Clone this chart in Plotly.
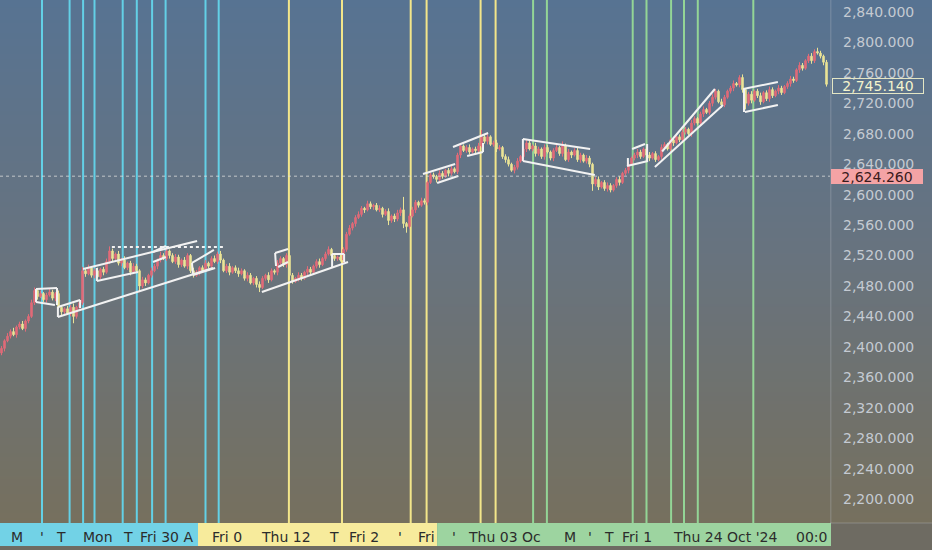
import base64, struct, zlib
import plotly.graph_objects as go

# ---------------- data ----------------
first_open = 2392
closes = [
    2398, 2408, 2414, 2420, 2416, 2426, 2430, 2424, 2434, 2440, 2458, 2474,
    2466, 2470, 2462, 2468, 2472, 2464, 2470, 2452, 2446, 2450, 2444, 2452,
    2440, 2452, 2458, 2500, 2496, 2504, 2494, 2500, 2492, 2502, 2498, 2512,
    2526, 2516, 2522, 2510, 2514, 2504, 2510, 2498, 2506, 2500, 2480, 2488,
    2484, 2494, 2500, 2506, 2514, 2520, 2516, 2526, 2520, 2512, 2518, 2508,
    2514, 2506, 2520, 2500, 2494, 2498, 2504, 2500, 2510, 2506, 2516, 2512,
    2522, 2514, 2500, 2506, 2498, 2504, 2500, 2496, 2500, 2490, 2494, 2484,
    2490, 2482, 2478, 2490, 2494, 2488, 2500, 2498, 2510, 2516, 2508, 2520,
    2494, 2486, 2490, 2494, 2490, 2498, 2502, 2498, 2506, 2512, 2508, 2516,
    2522, 2528, 2520, 2516, 2518, 2514, 2528, 2548, 2556, 2562, 2570, 2574,
    2582, 2580, 2588, 2584, 2586, 2580, 2582, 2574, 2578, 2566, 2572, 2568,
    2576, 2580, 2562, 2558, 2572, 2580, 2590, 2586, 2592, 2590, 2616, 2626,
    2624, 2620, 2628, 2624, 2632, 2628, 2634, 2630, 2652, 2664, 2658, 2662,
    2656, 2660, 2658, 2664, 2676, 2670, 2676, 2666, 2668, 2660, 2662, 2650,
    2646, 2640, 2632, 2636, 2644, 2650, 2660, 2668, 2660, 2664, 2654, 2660,
    2650, 2662, 2656, 2648, 2658, 2662, 2654, 2664, 2646, 2656, 2652, 2658,
    2646, 2652, 2644, 2648, 2640, 2614, 2620, 2610, 2616, 2608, 2612, 2606,
    2612, 2620, 2616, 2628, 2632, 2640, 2648, 2652, 2656, 2650, 2660, 2652,
    2648, 2654, 2646, 2650, 2662, 2666, 2660, 2672, 2668, 2676, 2672, 2682,
    2686, 2680, 2694, 2700, 2694, 2706, 2712, 2708, 2720, 2728, 2736, 2722,
    2718, 2728, 2736, 2740, 2746, 2744, 2754, 2738, 2720, 2732, 2724, 2736,
    2730, 2722, 2734, 2726, 2738, 2730, 2736, 2740, 2734, 2742, 2746, 2752,
    2750, 2764, 2770, 2766, 2776, 2782, 2776, 2788, 2786, 2782, 2774, 2745,
]
upper_wicks = [
    3, 2, 4, 3, 5, 2, 3, 4, 2, 3, 4, 4,
    3, 4, 2, 3, 5, 3, 2, 4, 3, 2, 4, 3,
    5, 2, 3, 5, 3, 4, 2, 3, 4, 2, 3, 4,
    6, 3, 2, 4, 3, 5, 2, 3, 4, 3, 2, 4,
    3, 2, 4, 3, 2, 5, 3, 4, 2, 3, 4, 3,
    2, 4, 3, 2, 4, 3, 2, 3, 4, 2, 3, 4,
    3, 4, 2, 3, 4, 2, 3, 4, 3, 2, 4, 3,
    2, 3, 4, 3, 2, 4, 3, 2, 4, 3, 2, 3,
    7, 3, 2, 4, 3, 2, 4, 3, 2, 3, 4, 2,
    3, 4, 2, 3, 2, 4, 3, 3, 4, 2, 3, 4,
    3, 2, 4, 3, 2, 3, 4, 2, 3, 4, 2, 3,
    4, 3, 17, 2, 3, 4, 3, 2, 4, 3, 2, 3,
    3, 2, 4, 3, 2, 3, 4, 2, 3, 4, 2, 3,
    4, 2, 3, 4, 9, 3, 4, 2, 3, 4, 3, 2,
    3, 4, 2, 3, 4, 2, 3, 4, 3, 2, 4, 3,
    2, 4, 3, 2, 3, 4, 2, 6, 3, 4, 2, 3,
    4, 3, 2, 4, 3, 2, 3, 4, 2, 3, 4, 3,
    2, 3, 4, 2, 3, 4, 2, 3, 4, 3, 2, 3,
    4, 2, 3, 2, 4, 3, 2, 3, 4, 2, 3, 4,
    3, 2, 4, 3, 2, 3, 4, 2, 3, 4, 3, 2,
    4, 3, 2, 3, 4, 2, 3, 4, 2, 3, 4, 2,
    3, 4, 2, 3, 4, 3, 2, 4, 3, 2, 3, 4,
    3, 2, 4, 3, 2, 3, 4, 3, 5, 3, 2, 3,
]
lower_wicks = [
    3, 4, 2, 3, 2, 4, 3, 2, 4, 3, 2, 3,
    4, 2, 3, 4, 2, 3, 4, 2, 5, 3, 2, 4,
    9, 3, 2, 3, 4, 2, 3, 4, 2, 3, 4, 2,
    3, 4, 2, 3, 4, 2, 3, 4, 2, 3, 8, 3,
    4, 2, 3, 2, 4, 3, 2, 3, 4, 2, 3, 4,
    3, 2, 4, 3, 3, 2, 4, 3, 2, 3, 4, 2,
    3, 4, 2, 3, 4, 2, 3, 4, 2, 3, 4, 2,
    3, 4, 6, 2, 3, 4, 2, 3, 4, 2, 3, 4,
    6, 3, 2, 4, 3, 2, 4, 3, 2, 3, 4, 2,
    3, 2, 4, 3, 3, 2, 4, 3, 2, 3, 4, 2,
    3, 4, 2, 3, 4, 2, 3, 4, 2, 6, 3, 4,
    3, 4, 6, 8, 3, 2, 4, 3, 2, 3, 4, 2,
    3, 4, 2, 3, 2, 4, 3, 2, 3, 4, 2, 3,
    3, 2, 4, 3, 2, 3, 4, 2, 3, 4, 2, 3,
    4, 3, 2, 4, 3, 2, 3, 4, 2, 3, 4, 3,
    3, 4, 2, 3, 4, 2, 3, 4, 2, 3, 4, 2,
    3, 4, 2, 3, 4, 9, 3, 4, 2, 3, 4, 3,
    2, 3, 4, 2, 3, 4, 2, 3, 4, 3, 2, 3,
    4, 2, 3, 2, 4, 3, 2, 3, 4, 2, 3, 4,
    3, 2, 4, 3, 2, 3, 4, 2, 3, 4, 3, 2,
    4, 3, 2, 3, 4, 2, 3, 4, 8, 3, 4, 2,
    3, 4, 2, 3, 4, 3, 2, 4, 3, 2, 3, 4,
    3, 2, 4, 3, 2, 3, 4, 3, 2, 3, 4, 3,
]

# event markers (bar index) by session colour
cyan_events = [13.5, 22.7, 27.2, 31.0, 40.4, 45.1, 50.2, 54.7, 68.0, 72.4]
yellow_events = [95.8, 113.5, 136.4, 141.7, 159.7, 164.7]
green_events = [177.2, 181.8, 210.4, 215.0, 223.2, 227.5, 232.1, 250.6]
# session band boundaries on the time axis (bar index)
band_edges = [-0.5, 65.5, 145.2, 276.5]

# drawn pattern lines (bar index, price) -> (bar index, price)
pattern_lines = [
    (11.5, 2476.0, 18.5, 2477.3), (18.5, 2477.3, 18.5, 2455.0),
    (11.5, 2458.9, 17.8, 2455.0), (11.5, 2476.0, 11.5, 2458.9),
    (18.8, 2452.4, 26.2, 2461.6), (18.8, 2452.4, 18.8, 2439.2),
    (26.2, 2461.6, 26.2, 2451.0),
    (18.8, 2439.2, 70.5, 2503.6),
    (27.2, 2502.3, 65.2, 2539.0),
    (31.8, 2486.5, 45.5, 2498.3), (31.8, 2503.6, 31.8, 2486.5),
    (50.5, 2524.6, 54.8, 2532.5), (50.5, 2511.5, 54.8, 2518.1),
    (63.5, 2510.2, 70.8, 2527.3), (63.8, 2494.4, 71.2, 2503.6),
    (63.5, 2510.2, 63.8, 2494.4),
    (91.2, 2523.3, 95.5, 2528.6), (92.2, 2504.9, 95.5, 2511.5),
    (91.2, 2523.3, 91.5, 2506.2),
    (86.8, 2472.1, 115.5, 2511.5),
    (110.2, 2522.0, 114.2, 2522.0), (110.2, 2522.0, 110.2, 2504.9),
    (114.2, 2522.0, 114.2, 2511.5),
    (140.5, 2627.1, 151.2, 2640.3), (145.2, 2615.3, 152.2, 2624.5),
    (150.5, 2662.6, 162.2, 2681.0), (155.2, 2650.8, 160.5, 2656.0),
    (160.5, 2667.9, 160.5, 2656.0),
    (173.8, 2673.1, 196.2, 2660.0), (173.8, 2644.2, 197.8, 2625.8),
    (173.8, 2673.1, 173.8, 2644.2),
    (210.2, 2660.0, 214.5, 2666.5), (208.5, 2637.6, 215.5, 2644.2),
    (215.2, 2666.5, 215.2, 2644.2), (208.8, 2648.1, 208.8, 2637.6),
    (220.2, 2656.7, 237.8, 2738.8), (217.8, 2636.3, 240.5, 2717.8),
    (247.2, 2738.8, 258.8, 2748.0), (247.8, 2708.6, 258.8, 2717.8),
    (247.5, 2738.8, 247.5, 2708.6),
]
dotted_lines = [(36.8, 2531.2, 73.8, 2531.2)]

last_price = 2745.14
marked_price = 2624.26
price_ticks = list(range(2200, 2841, 40))

time_labels = ["M", "'", "T", "Mon", "T", "Fri 30 A", "Fri 0", "Thu 12", "T",
               "Fri 2", "'", "Fri", "'", "Thu 03 Oc", "M", "'", "T", "Fri 1",
               "Thu 24 Oct '24", "00:0"]
time_label_pos = [2.8, 12.5, 17.8, 26.8, 40.2, 45.8, 69.8, 86.2, 108.8,
                  115.5, 131.8, 138.5, 149.8, 155.2, 187.2, 195.2, 200.5, 206.5,
                  223.5, 264.5]

# ---------------- derived OHLC ----------------
n = min(len(closes), len(upper_wicks), len(lower_wicks))
closes = closes[:n]
opens = [first_open] + closes[:-1]
highs = [max(o, c) + u for o, c, u in zip(opens, closes, upper_wicks[:n])]
lows = [min(o, c) - d for o, c, d in zip(opens, closes, lower_wicks[:n])]
idx = list(range(n))

# ---------------- geometry ----------------
W, H = 932, 550
PL, PR, PT, PB = 0, 102, 0, 27
plot_w = W - PL - PR           # 830
plot_h = H - PT - PB           # 523
px_per_bar = 3.0
x_range = [-0.5, -0.5 + plot_w / px_per_bar]
px_per_unit = 0.761
y_top = 2840 + 12 / px_per_unit
y_bot = 2840 - (plot_h - 12) / px_per_unit


def bar_to_paper(i):
    return (i - x_range[0]) / (x_range[1] - x_range[0])


# ---------------- background gradient as PNG ----------------
def lerp(a, b, t):
    return tuple(int(round(a[k] + (b[k] - a[k]) * t)) for k in range(3))


stops = [(0, (87, 115, 146)), (260, (104, 115, 126)), (522, (118, 112, 94))]
rows = []
for r in range(H):
    if r >= plot_h:
        rows.append((110, 107, 98))
        continue
    for (r0, c0), (r1, c1) in zip(stops[:-1], stops[1:]):
        if r0 <= r <= r1:
            rows.append(lerp(c0, c1, (r - r0) / (r1 - r0)))
            break


def make_png(w, rows_):
    raw = b"".join(b"\x00" + bytes(rgb) * w for rgb in rows_)

    def chunk(t, d):
        return struct.pack(">I", len(d)) + t + d + struct.pack(">I", zlib.crc32(t + d) & 0xffffffff)

    ihdr = struct.pack(">IIBBBBB", w, len(rows_), 8, 2, 0, 0, 0)
    return b"\x89PNG\r\n\x1a\n" + chunk(b"IHDR", ihdr) + chunk(b"IDAT", zlib.compress(raw)) + chunk(b"IEND", b"")


png_src = "data:image/png;base64," + base64.b64encode(make_png(4, rows)).decode()

# ---------------- figure ----------------
RED = "#e26b78"
YEL = "#ebe496"
fig = go.Figure()
fig.add_trace(go.Candlestick(
    x=idx, open=opens, high=highs, low=lows, close=closes,
    increasing=dict(line=dict(color=RED, width=1), fillcolor=RED),
    decreasing=dict(line=dict(color=YEL, width=1), fillcolor=YEL),
    whiskerwidth=0, hoverinfo="skip", showlegend=False,
))

shapes = []
for evs, col in [(cyan_events, "#63d0e6"), (yellow_events, "#f3e68a"), (green_events, "#93d596")]:
    for e in evs:
        shapes.append(dict(type="line", xref="x", yref="paper", x0=e, x1=e, y0=0, y1=1,
                           line=dict(color=col, width=2), layer="below"))

# time-axis session bands
band_cols = ["#72d2e6", "#f7eb9c", "#9dd4a0"]
strip_y0 = -(546 - plot_h) / plot_h
for k, col in enumerate(band_cols):
    shapes.append(dict(type="rect", xref="paper", yref="paper",
                       x0=bar_to_paper(band_edges[k]), x1=bar_to_paper(band_edges[k + 1]),
                       y0=strip_y0, y1=0, fillcolor=col, line=dict(width=0), layer="below"))

for (a0, p0, a1, p1) in pattern_lines:
    shapes.append(dict(type="line", xref="x", yref="y", x0=a0, y0=p0, x1=a1, y1=p1,
                       line=dict(color="#f2f2f2", width=2)))
for (a0, p0, a1, p1) in dotted_lines:
    shapes.append(dict(type="line", xref="x", yref="y", x0=a0, y0=p0, x1=a1, y1=p1,
                       line=dict(color="#f2f2f2", width=2, dash="dot")))

# marked price line
shapes.append(dict(type="line", xref="paper", yref="y", x0=0, x1=1, y0=marked_price, y1=marked_price,
                   line=dict(color="rgba(225,225,225,0.75)", width=1, dash="dot")))
# axis separators
shapes.append(dict(type="line", xref="paper", yref="paper", x0=1.001, x1=1.001, y0=0, y1=1,
                   line=dict(color="rgba(190,195,200,0.35)", width=1)))
shapes.append(dict(type="line", xref="paper", yref="paper", x0=1.0, x1=W / plot_w, y0=0, y1=0,
                   line=dict(color="rgba(190,195,200,0.35)", width=1)))

annotations = []
FONT = "DejaVu Sans"
lab_y = -(537 - plot_h) / plot_h
for t, pos in zip(time_labels, time_label_pos):
    annotations.append(dict(text=t, xref="paper", yref="paper", x=bar_to_paper(pos), y=lab_y,
                            xanchor="left", yanchor="middle", showarrow=False, borderpad=0,
                            font=dict(family=FONT, size=14, color="#2c2c2c")))

annotations.append(dict(text=f"{last_price:,.3f}", xref="paper", yref="y", x=1.0 + 2 / plot_w,
                        y=last_price, xanchor="left", yanchor="middle", showarrow=False,
                        width=90, height=14, align="center", borderpad=0, borderwidth=1,
                        bordercolor="#e4e6c4", bgcolor="rgba(0,0,0,0)",
                        font=dict(family=FONT, size=14, color="#f4f4cc"), yshift=-2))
annotations.append(dict(text=f"{marked_price:,.3f}", xref="paper", yref="y", x=1.0 + 1 / plot_w,
                        y=marked_price, xanchor="left", yanchor="middle", showarrow=False,
                        width=92, height=15, align="center", borderpad=0, borderwidth=0,
                        bgcolor="#f4a3a5",
                        font=dict(family=FONT, size=14, color="#3a1a1c")))

fig.update_layout(
    width=W, height=H,
    margin=dict(l=PL, r=PR, t=PT, b=PB, pad=0),
    paper_bgcolor="#6a7480", plot_bgcolor="rgba(0,0,0,0)",
    showlegend=False, hovermode=False,
    images=[dict(source=png_src, xref="paper", yref="paper", x=0, y=1,
                 sizex=W / plot_w, sizey=H / plot_h, xanchor="left", yanchor="top",
                 sizing="stretch", layer="below")],
    shapes=shapes, annotations=annotations,
    xaxis=dict(range=x_range, showgrid=False, zeroline=False, showticklabels=False,
               ticks="", showline=False, rangeslider=dict(visible=False), fixedrange=True),
    yaxis=dict(range=[y_bot, y_top], side="right", showgrid=False, zeroline=False,
               tickvals=price_ticks, tickformat=",.3f", ticks="", showline=False,
               ticklabelstandoff=12,
               tickfont=dict(family=FONT, size=14, color="#c4cad2"), fixedrange=True),
)

fig.write_html("out.html", config={"displayModeBar": False, "staticPlot": True},
               post_script="document.body.style.margin='0px';document.body.style.padding='0px';"
                           "document.body.style.overflow='hidden';")
